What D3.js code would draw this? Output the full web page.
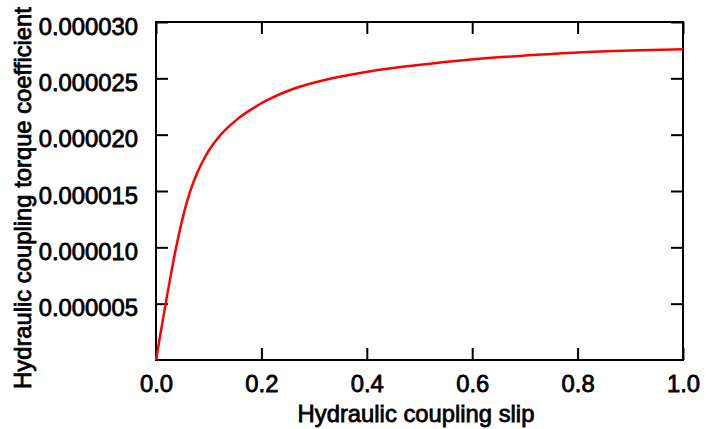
<!DOCTYPE html>
<html>
<head>
<meta charset="utf-8">
<script src="https://cdn.jsdelivr.net/npm/d3@7"></script>
<style>
  body { margin: 0; background: #fff; }
  text { font-family: "Liberation Sans", Arial, Helvetica, sans-serif; }
</style>
</head>
<body>
<div id="chart"></div>
<script>
// values
var slip = [0, 0.01, 0.02, 0.03, 0.04, 0.05, 0.06, 0.07, 0.08, 0.09, 0.10, 0.115, 0.13,
  0.155, 0.18, 0.21, 0.26, 0.32, 0.39, 0.46, 0.52, 0.62, 0.7, 0.8, 0.9, 1.0];
var torqueCoef = [0, 2.75e-6, 5.45e-6, 8.02e-6, 10.4e-6, 12.48e-6, 14.23e-6, 15.65e-6,
  16.8e-6, 17.75e-6, 18.57e-6, 19.55e-6, 20.35e-6, 21.4e-6, 22.22e-6, 23.05e-6,
  24.05e-6, 24.85e-6, 25.5e-6, 25.98e-6, 26.3e-6, 26.75e-6, 27.02e-6, 27.3e-6,
  27.47e-6, 27.58e-6];
var xTicks = [0, 0.2, 0.4, 0.6, 0.8, 1.0];
var yTicks = [0.000005, 0.00001, 0.000015, 0.00002, 0.000025, 0.00003];

var width = 706, height = 429;
var margin = { top: 22, right: 23, bottom: 69, left: 156 };
var w = width - margin.left - margin.right;
var h = height - margin.top - margin.bottom;

var svg = d3.select("#chart")
  .append("svg")
  .attr("width", width)
  .attr("height", height);

var g = svg.append("g")
  .attr("transform", "translate(" + margin.left + "," + margin.top + ")");

var x = d3.scaleLinear().domain([0, 1]).range([0, w]);
var y = d3.scaleLinear().domain([0, 0.00003]).range([h, 0]);

var fontSize = "23.8px";
var textStroke = 0.8;

// left axis with labels
var yAxis = g.append("g")
  .call(d3.axisLeft(y).tickValues(yTicks).tickSizeInner(-12).tickSizeOuter(0)
    .tickPadding(18).tickFormat(d3.format(".6f")));
// bottom axis with labels
var xAxis = g.append("g")
  .attr("transform", "translate(0," + h + ")")
  .call(d3.axisBottom(x).tickValues(xTicks).tickSizeInner(-12).tickSizeOuter(0)
    .tickPadding(15).tickFormat(d3.format(".1f")));
// mirrored axes, ticks only
var yAxisR = g.append("g")
  .attr("transform", "translate(" + w + ",0)")
  .call(d3.axisRight(y).tickValues(yTicks).tickSizeInner(-12).tickSizeOuter(0).tickFormat(""));
var xAxisT = g.append("g")
  .call(d3.axisTop(x).tickValues(xTicks).tickSizeInner(-12).tickSizeOuter(0).tickFormat(""));

[yAxis, xAxis, yAxisR, xAxisT].forEach(function (a) {
  a.select(".domain").remove();
  a.selectAll(".tick line").attr("stroke", "#000").attr("stroke-width", 2);
  a.selectAll("text")
    .attr("font-size", fontSize)
    .attr("fill", "#000")
    .attr("stroke", "#000")
    .attr("stroke-width", textStroke);
});
yAxis.selectAll("text").attr("dy", null).attr("y", 12);

// frame
g.append("rect")
  .attr("x", 0).attr("y", 0)
  .attr("width", w).attr("height", h)
  .attr("fill", "none")
  .attr("stroke", "#000")
  .attr("stroke-width", 2);

var line = d3.line()
  .x(function (d, i) { return x(slip[i]); })
  .y(function (d) { return y(d); })
  .curve(d3.curveCatmullRom.alpha(0.5));

g.append("path")
  .datum(torqueCoef)
  .attr("d", line)
  .attr("fill", "none")
  .attr("stroke", "#ff0000")
  .attr("stroke-width", 2.5);

// axis titles
svg.append("text")
  .attr("x", 416)
  .attr("y", 422)
  .attr("text-anchor", "middle")
  .attr("font-size", fontSize)
  .attr("stroke", "#000").attr("stroke-width", textStroke)
  .text("Hydraulic coupling slip");

svg.append("text")
  .attr("transform", "translate(31,198) rotate(-90)")
  .attr("text-anchor", "middle")
  .attr("font-size", fontSize)
  .attr("stroke", "#000").attr("stroke-width", textStroke)
  .text("Hydraulic coupling torque coefficient");
</script>
</body>
</html>
